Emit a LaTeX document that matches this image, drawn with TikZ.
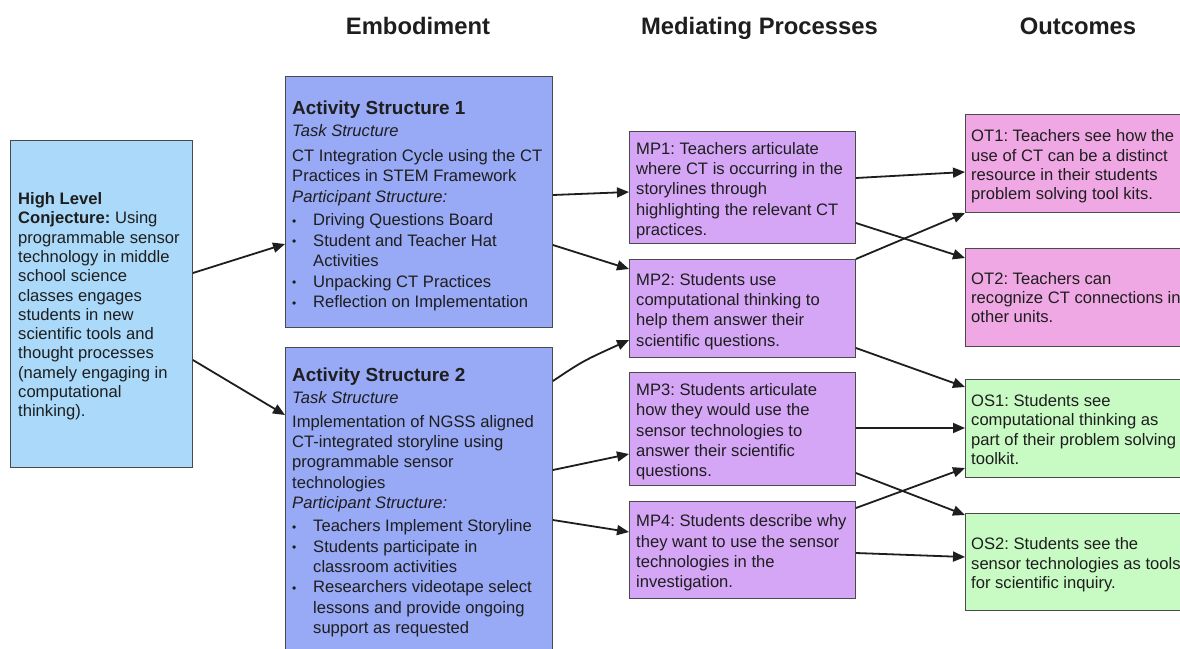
\documentclass[tikz,border=0pt]{standalone}
\usepackage{fontspec}
\setmainfont{Liberation Sans}
\usetikzlibrary{arrows.meta,calc}

\definecolor{hlcfill}{HTML}{AAD9FA}
\definecolor{asfill}{HTML}{98A9F5}
\definecolor{mpfill}{HTML}{D4A6F5}
\definecolor{otfill}{HTML}{F0A8E4}
\definecolor{osfill}{HTML}{C8FAC3}
\definecolor{edge}{HTML}{4A4A4A}
\definecolor{ink}{HTML}{1E1E1E}

% bullet with a fixed hanging indent
\newcommand\bpt{\makebox[21pt][l]{\raisebox{0.5pt}{\fontsize{12}{12}\selectfont\textbullet}}}
\newcommand\astitle{\fontsize{18.9}{20.3}\selectfont\bfseries}

\begin{document}
\frenchspacing
\begin{tikzpicture}[x=1pt,y=-1pt,
  box/.style={draw=edge, line width=0.9pt, anchor=north west, inner sep=0pt},
  txt/.style={align=left, anchor=west, inner xsep=7pt, inner ysep=0pt, text=ink,
    font=\fontsize{16.6}{20.3}\selectfont},
  tight/.style={font=\fontsize{16.6}{19.3}\selectfont},
  header/.style={anchor=base, text=ink, font=\fontsize{23.8}{28}\selectfont\bfseries},
  arr/.style={-{Triangle[length=12pt,width=10pt]}, line width=1.8pt, draw=ink}]

\useasboundingbox (0,0) rectangle (1180,648);
\fill[white] (0,0) rectangle (1180,648);
\clip (0,0) rectangle (1180,648);

% column headers
\node[header] (hemb) at (418,34.5) {Embodiment};
\node[header] (hmed) at (759.5,34.5) {Mediating Processes};
\node[header] (hout) at (1078,34.5) {Outcomes};

% conjecture
\node[box, fill=hlcfill, minimum width=182, minimum height=327] (hlc) at (10,140) {};
\node[txt, tight, inner xsep=8pt, yshift=-2.5pt] (hlct) at (hlc.west)
{\textbf{High Level}\\
\textbf{Conjecture:} Using\\
programmable sensor\\
technology in middle\\
school science\\
classes engages\\
students in new\\
scientific tools and\\
thought processes\\
(namely engaging in\\
computational\\
thinking).};

% embodiment
\node[box, fill=asfill, minimum width=267, minimum height=251] (as1) at (285,76) {};
\node[txt, font=\fontsize{16.6}{20.5}\selectfont, yshift=-4pt] (as1t) at (as1.west)
{{\astitle Activity Structure 1}\\[2pt]
\textit{Task Structure}\\[4pt]
CT Integration Cycle using the CT\\
Practices in STEM Framework\\
\textit{Participant Structure:}\\[3pt]
\bpt Driving Questions Board\\
\bpt Student and Teacher Hat\\
\hspace*{21pt}Activities\\
\bpt Unpacking CT Practices\\
\bpt Reflection on Implementation};

\node[box, fill=asfill, minimum width=267, minimum height=310] (as2) at (285,347) {};
\node[txt] (as2t) at (as2.west)
{{\astitle Activity Structure 2}\\[1pt]
\textit{Task Structure}\\[4pt]
Implementation of NGSS aligned\\
CT-integrated storyline using\\
programmable sensor\\
technologies\\
\textit{Participant Structure:}\\[3pt]
\bpt Teachers Implement Storyline\\
\bpt Students participate in\\
\hspace*{21pt}classroom activities\\
\bpt Researchers videotape select\\
\hspace*{21pt}lessons and provide ongoing\\
\hspace*{21pt}support as requested};

% mediating processes
\node[box, fill=mpfill, minimum width=226, minimum height=112] (mp1) at (629,131) {};
\node[txt, yshift=-3pt] (mp1t) at (mp1.west)
{MP1: Teachers articulate\\
where CT is occurring in the\\
storylines through\\
highlighting the relevant CT\\
practices.};

\node[box, fill=mpfill, minimum width=226, minimum height=98] (mp2) at (629,259) {};
\node[txt, yshift=-3pt] (mp2t) at (mp2.west)
{MP2: Students use\\
computational thinking to\\
help them answer their\\
scientific questions.};

\node[box, fill=mpfill, minimum width=226, minimum height=113] (mp3) at (629,372) {};
\node[txt, yshift=-3pt] (mp3t) at (mp3.west)
{MP3: Students articulate\\
how they would use the\\
sensor technologies to\\
answer their scientific\\
questions.};

\node[box, fill=mpfill, minimum width=226, minimum height=97] (mp4) at (629,501) {};
\node[txt, yshift=-3pt] (mp4t) at (mp4.west)
{MP4: Students describe why\\
they want to use the sensor\\
technologies in the\\
investigation.};

% outcomes
\node[box, fill=otfill, minimum width=260, minimum height=98] (ot1) at (965,114) {};
\node[txt, tight, inner xsep=6pt, yshift=-3pt] (ot1t) at (ot1.west)
{OT1: Teachers see how the\\
use of CT can be a distinct\\
resource in their students\\
problem solving tool kits.};

\node[box, fill=otfill, minimum width=260, minimum height=98] (ot2) at (965,248) {};
\node[txt, tight, inner xsep=6pt] (ot2t) at (ot2.west)
{OT2: Teachers can\\
recognize CT connections in\\
other units.};

\node[box, fill=osfill, minimum width=260, minimum height=98] (os1) at (965,379) {};
\node[txt, tight, inner xsep=6pt, yshift=-1pt] (os1t) at (os1.west)
{OS1: Students see\\
computational thinking as\\
part of their problem solving\\
toolkit.};

\node[box, fill=osfill, minimum width=260, minimum height=97] (os2) at (965,513) {};
\node[txt, tight, inner xsep=6pt, yshift=-3pt] (os2t) at (os2.west)
{OS2: Students see the\\
sensor technologies as tools\\
for scientific inquiry.};

% connectors
\draw[arr] ($(hlc.north east)+(0,133)$) -- ($(as1.north west)+(0,168)$);
\draw[arr] ($(hlc.north east)+(0,220)$) -- ($(as2.north west)+(0,68)$);

\draw[arr] ($(as1.north east)+(0,119)$) -- ($(mp1.north west)+(0,61)$);
\draw[arr] ($(as1.north east)+(0,169)$) -- ($(mp2.north west)+(0,10)$);
\draw[arr] ($(as2.north east)+(0,34)$) .. controls ($(as2.north east)+(30,14)$) .. ($(mp2.north west)+(0,81)$);
\draw[arr] ($(as2.north east)+(0,123)$) -- ($(mp3.north west)+(0,82)$);
\draw[arr] ($(as2.north east)+(0,173)$) -- ($(mp4.north west)+(0,31)$);

\draw[arr] ($(mp1.north east)+(0,47)$) -- ($(ot1.north west)+(0,58)$);
\draw[arr] ($(mp1.north east)+(0,92)$) -- ($(ot2.north west)+(0,10)$);
\draw[arr] (mp2.north east) -- ($(ot1.north west)+(0,99)$);
\draw[arr] ($(mp2.north east)+(0,89)$) -- ($(os1.north west)+(0,8)$);
\draw[arr] ($(mp3.north east)+(0,56)$) -- ($(os1.north west)+(0,49)$);
\draw[arr] ($(mp3.north east)+(0,101)$) -- ($(os2.north west)+(0,2)$);
\draw[arr] ($(mp4.north east)+(0,7)$) -- ($(os1.north west)+(0,89)$);
\draw[arr] ($(mp4.north east)+(0,52)$) -- ($(os2.north west)+(0,44)$);

\end{tikzpicture}
\end{document}
